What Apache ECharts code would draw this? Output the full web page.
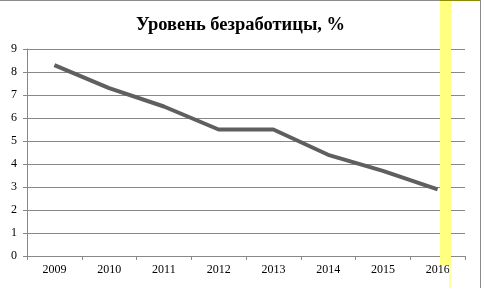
<!DOCTYPE html>
<html><head><meta charset="utf-8">
<script src="https://cdn.jsdelivr.net/npm/echarts@6/dist/echarts.min.js"></script>
<style>html,body{margin:0;padding:0;background:#fff}#c{width:481px;height:288px}</style>
</head><body><div id="c"></div>
<script>
var titleText = 'Уровень безработицы, %';
var years = ['2009','2010','2011','2012','2013','2014','2015','2016'];
var unemployment = [8.3, 7.3, 6.5, 5.5, 5.5, 4.4, 3.7, 2.9];
var yMin = 0, yMax = 9, yStep = 1;

var chart = echarts.init(document.getElementById('c'), null, {renderer:'canvas'});
var font = '"Liberation Serif","Times New Roman",serif';
chart.setOption({
  animation:false,
  backgroundColor:'#fff',
  title:{text:titleText,left:'center',top:11,
    textStyle:{fontFamily:font,fontWeight:'bold',fontSize:18.5,color:'#000'}},
  grid:{left:27,right:16,top:49,bottom:32},
  xAxis:{type:'category',data:years,boundaryGap:true,
    axisLine:{lineStyle:{color:'#888888',width:1}},
    axisTick:{show:true,length:4,lineStyle:{color:'#888888'}},
    axisLabel:{fontFamily:font,fontSize:12,color:'#000',margin:8}},
  yAxis:{type:'value',min:yMin,max:yMax,interval:yStep,
    axisLine:{show:true,lineStyle:{color:'#888888',width:1}},
    axisTick:{show:true,length:4,lineStyle:{color:'#888888'}},
    splitLine:{lineStyle:{color:'#888888',width:1}},
    axisLabel:{fontFamily:font,fontSize:12,color:'#000',margin:10}},
  series:[{type:'line',data:unemployment,showSymbol:false,symbol:'none',
    lineStyle:{color:'#5f5f5f',width:4},z:3}],
  graphic:[
    {type:'rect',shape:{x:440,y:0,width:11,height:265},style:{fill:'#ffff80'},z:1,silent:true},
    {type:'line',shape:{x1:450,y1:265,x2:450,y2:288},style:{stroke:'#ffff80',lineWidth:1.5},z:1,silent:true},
    {type:'line',shape:{x1:0,y1:0.5,x2:440,y2:0.5},style:{stroke:'#8c8c8c',lineWidth:1},z:10,silent:true},
    {type:'line',shape:{x1:440,y1:0.5,x2:481,y2:0.5},style:{stroke:'#8c8c00',lineWidth:1},z:10,silent:true},
    {type:'line',shape:{x1:480.5,y1:0,x2:480.5,y2:288},style:{stroke:'#8c8c8c',lineWidth:1},z:10,silent:true}
  ]
});
</script></body></html>
